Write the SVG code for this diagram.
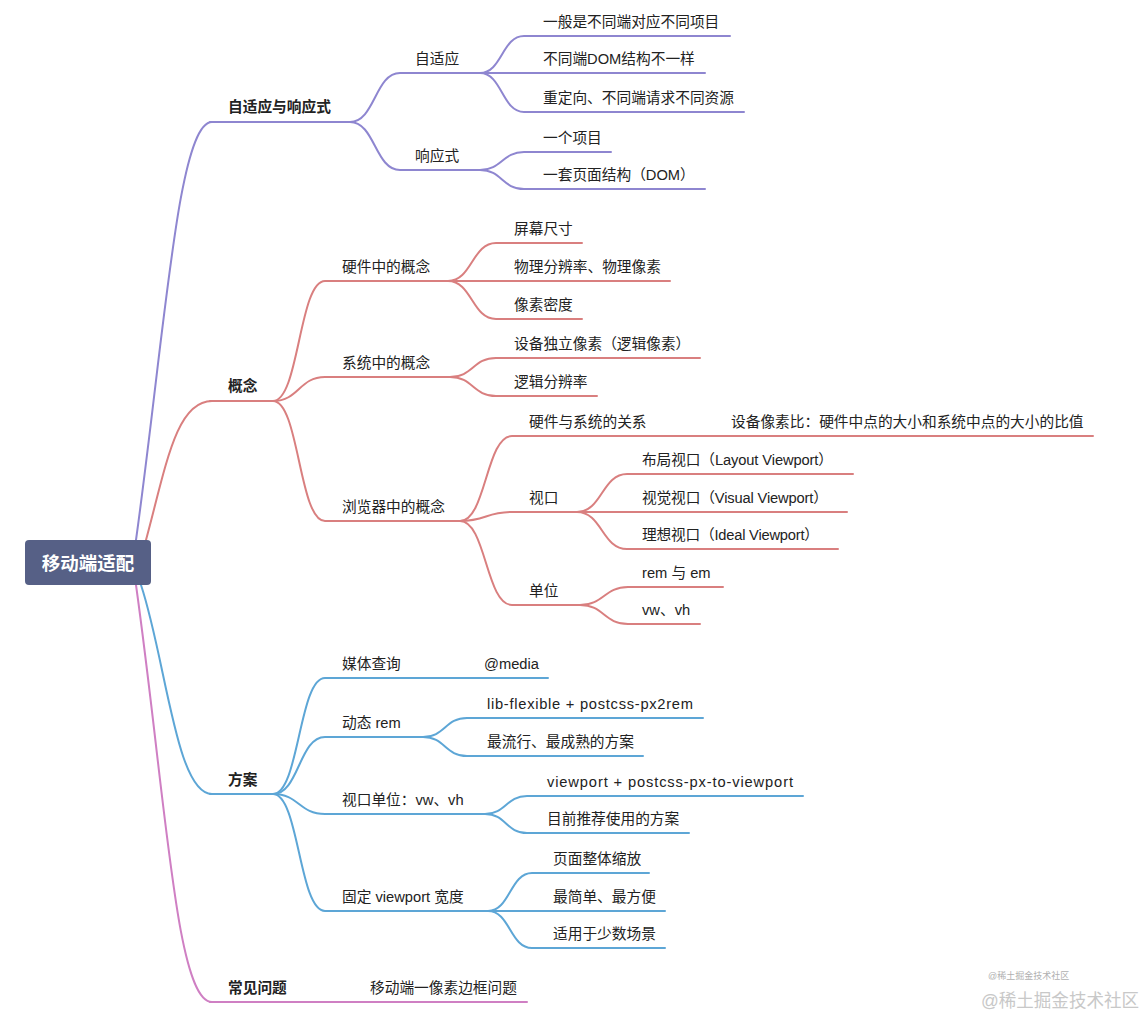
<svg xmlns="http://www.w3.org/2000/svg" width="1147" height="1016" viewBox="0 0 1147 1016">
<style>
text{font-family:"Liberation Sans","Noto Sans CJK SC",sans-serif;font-size:14.7px;fill:#222}
.b{font-weight:bold}
.root{font-size:18.5px;font-weight:bold;fill:#fff}
path,line{fill:none;stroke-width:2;stroke-linecap:round}
.p{stroke:#8e86d0}
.r{stroke:#d97f7f}
.bl{stroke:#5da6d6}
.k{stroke:#cf7fc3}
.wm1{font-size:9px;fill:#b0b0b0}
.wm2{font-size:18px;fill:#c8c8c8}
</style>
<rect width="1147" height="1016" fill="#fff"/>
<g id="connectors">
<!-- root to L1 -->
<path class="p" d="M136,540 C165,330 178,122 212,122"/>
<path class="r" d="M146,540 C166,466 176,401 212,401"/>
<path class="bl" d="M141,585 C166,660 176,794 212,794"/>
<path class="k" d="M136,585 C166,800 176,1002 212,1002"/>
<!-- L1 underlines -->
<path class="p" d="M210,122 H350"/>
<path class="r" d="M210,401 H273"/>
<path class="bl" d="M210,794 H273"/>
<path class="k" d="M210,1002 H527"/>
<!-- 自适应与响应式 -->
<path class="p" d="M350,122 C375,122 375,73 400,73 H480"/>
<path class="p" d="M350,122 C375,122 375,170 400,170 H480"/>
<path class="p" d="M480,73 C502,73 502,36 524,36 H730"/>
<path class="p" d="M480,73 H705"/>
<path class="p" d="M480,73 C502,73 502,112 524,112 H744"/>
<path class="p" d="M480,170 C502,170 502,152 524,152 H611"/>
<path class="p" d="M480,170 C502,170 502,189 524,189 H705"/>
<!-- 概念 -->
<path class="r" d="M273,401 C299,401 299,281 325,281 H448"/>
<path class="r" d="M273,401 C299,401 299,377 325,377 H450"/>
<path class="r" d="M273,401 C299,401 299,521 325,521 H460"/>
<path class="r" d="M448,281 C472,281 472,243 496,243 H582"/>
<path class="r" d="M448,281 H670"/>
<path class="r" d="M448,281 C472,281 472,319 496,319 H582"/>
<path class="r" d="M450,377 C473,377 473,358 496,358 H700"/>
<path class="r" d="M450,377 C473,377 473,396 496,396 H597"/>
<path class="r" d="M460,521 C486,521 486,436 512,436 H1093"/>
<path class="r" d="M460,521 C486,521 486,512 512,512 H577"/>
<path class="r" d="M460,521 C486,521 486,605 512,605 H580"/>
<path class="r" d="M577,512 C602,512 602,474 627,474 H853"/>
<path class="r" d="M577,512 H847"/>
<path class="r" d="M577,512 C602,512 602,549 627,549 H838"/>
<path class="r" d="M580,605 C604,605 604,587 628,587 H723"/>
<path class="r" d="M580,605 C604,605 604,624 628,624 H700"/>
<!-- 方案 -->
<path class="bl" d="M273,794 C299,794 299,678 325,678 H548"/>
<path class="bl" d="M273,794 C299,794 299,737 325,737 H423"/>
<path class="bl" d="M273,794 C299,794 299,814 325,814 H485"/>
<path class="bl" d="M273,794 C299,794 299,911 325,911 H488"/>
<path class="bl" d="M423,737 C445,737 445,718 467,718 H703"/>
<path class="bl" d="M423,737 C445,737 445,756 467,756 H643"/>
<path class="bl" d="M485,814 C506,814 506,796 527,796 H803"/>
<path class="bl" d="M485,814 C506,814 506,833 527,833 H689"/>
<path class="bl" d="M488,911 C510,911 510,873 532,873 H649"/>
<path class="bl" d="M488,911 H665"/>
<path class="bl" d="M488,911 C510,911 510,948 532,948 H665"/>
</g>
<g id="root"><rect x="25" y="540" width="126" height="45" rx="4" fill="#566086"/><text class="root" x="88" y="569.5" text-anchor="middle">移动端适配</text></g>
<g id="n-zsy-xys"><text class="b" x="228" y="112">自适应与响应式</text></g>
<g id="n-zsy"><text x="415" y="64">自适应</text></g>
<g id="n-zsy-1"><text x="543" y="27">一般是不同端对应不同项目</text></g>
<g id="n-zsy-2"><text x="543" y="64">不同端DOM结构不一样</text></g>
<g id="n-zsy-3"><text x="543" y="103">重定向、不同端请求不同资源</text></g>
<g id="n-xys"><text x="415" y="161">响应式</text></g>
<g id="n-xys-1"><text x="543" y="143">一个项目</text></g>
<g id="n-xys-2"><text x="543" y="180">一套页面结构（DOM）</text></g>
<g id="n-gn"><text class="b" x="228" y="391">概念</text></g>
<g id="n-yj"><text x="342" y="272">硬件中的概念</text></g>
<g id="n-yj-1"><text x="514" y="234">屏幕尺寸</text></g>
<g id="n-yj-2"><text x="514" y="272">物理分辨率、物理像素</text></g>
<g id="n-yj-3"><text x="514" y="310">像素密度</text></g>
<g id="n-xt"><text x="342" y="368">系统中的概念</text></g>
<g id="n-xt-1"><text x="514" y="349">设备独立像素（逻辑像素）</text></g>
<g id="n-xt-2"><text x="514" y="387">逻辑分辨率</text></g>
<g id="n-llq"><text x="342" y="512">浏览器中的概念</text></g>
<g id="n-gx"><text x="529" y="427">硬件与系统的关系</text></g>
<g id="n-dpr"><text x="731" y="427">设备像素比：硬件中点的大小和系统中点的大小的比值</text></g>
<g id="n-sk"><text x="529" y="503">视口</text></g>
<g id="n-sk-1"><text x="642" y="465" textLength="191" lengthAdjust="spacing">布局视口（Layout Viewport）</text></g>
<g id="n-sk-2"><text x="642" y="503" textLength="186" lengthAdjust="spacing">视觉视口（Visual Viewport）</text></g>
<g id="n-sk-3"><text x="642" y="540" textLength="177" lengthAdjust="spacing">理想视口（Ideal Viewport）</text></g>
<g id="n-dw"><text x="529" y="596">单位</text></g>
<g id="n-dw-1"><text x="642" y="578">rem 与 em</text></g>
<g id="n-dw-2"><text x="642" y="615">vw、vh</text></g>
<g id="n-fa"><text class="b" x="228" y="785">方案</text></g>
<g id="n-mt"><text x="342" y="669">媒体查询</text></g>
<g id="n-media"><text x="484" y="669">@media</text></g>
<g id="n-rem"><text x="342" y="728">动态 rem</text></g>
<g id="n-rem-1"><text x="487" y="709" textLength="206" lengthAdjust="spacing">lib-flexible + postcss-px2rem</text></g>
<g id="n-rem-2"><text x="487" y="747">最流行、最成熟的方案</text></g>
<g id="n-vw"><text x="342" y="805">视口单位：vw、vh</text></g>
<g id="n-vw-1"><text x="547" y="787" textLength="246" lengthAdjust="spacing">viewport + postcss-px-to-viewport</text></g>
<g id="n-vw-2"><text x="547" y="824">目前推荐使用的方案</text></g>
<g id="n-gd"><text x="342" y="902">固定 viewport 宽度</text></g>
<g id="n-gd-1"><text x="553" y="864">页面整体缩放</text></g>
<g id="n-gd-2"><text x="553" y="902">最简单、最方便</text></g>
<g id="n-gd-3"><text x="553" y="939">适用于少数场景</text></g>
<g id="n-cj"><text class="b" x="228" y="993">常见问题</text></g>
<g id="n-cj-1"><text x="370" y="993">移动端一像素边框问题</text></g>
<text class="wm1" x="988" y="979">@稀土掘金技术社区</text>
<text class="wm2" x="981" y="1007" textLength="158" lengthAdjust="spacingAndGlyphs">@稀土掘金技术社区</text>
</svg>
